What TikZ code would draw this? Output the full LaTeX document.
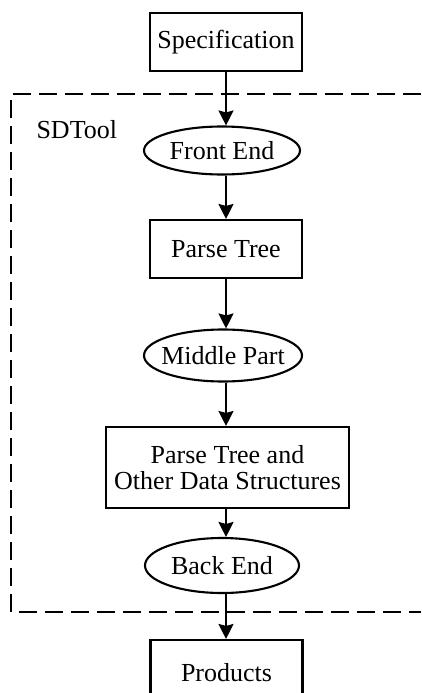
\documentclass[tikz,border=0pt]{standalone}
\usepackage{fontspec}
\setmainfont{Liberation Serif}
\usetikzlibrary{arrows.meta,shapes.geometric}
% zero-width label so the ellipse keeps the size it is given
\newcommand{\ovallabel}[1]{\makebox[0pt]{#1}}
\begin{document}
\begin{tikzpicture}[x=1pt,y=-1pt,
  lbl/.style={font=\fontsize{26}{26}\selectfont},
  box/.style={lbl,draw,line width=2.1pt,rectangle,minimum width=152pt,minimum height=58pt,inner sep=0pt,align=center},
  oval/.style={lbl,draw,line width=2.1pt,ellipse,minimum width=156pt,minimum height=48pt,inner sep=0pt},
  flow/.style={line width=1.9pt,-{Stealth[length=15pt,width=15pt,inset=2pt]}},
  group/.style={line width=2pt,dash pattern=on 18pt off 8pt}]
\useasboundingbox (0,0) rectangle (421,693);
% tool boundary, open on the right
\draw[group] (421,94) -- (11,94) -- (11,612) -- (421,612);
\node[lbl,anchor=west] (sdtool) at (33,130) {SDTool};
% pipeline
\node[box] (spec) at (226,42) {Specification};
\node[oval] (front) at (222,150.5) {\ovallabel{Front End}};
\node[box] (tree) at (226,249) {Parse Tree};
\node[oval,minimum width=158pt,minimum height=52pt] (mid) at (223,355.5) {\ovallabel{Middle Part}};
\node[box,minimum width=243pt,minimum height=81pt] (data) at (227.5,467.5) {Parse Tree and\\Other Data Structures};
\node[oval,minimum width=154pt,minimum height=55pt] (back) at (222,565.5) {\ovallabel{Back End}};
\node[box,minimum height=66pt] (prod) at (226.5,673) {Products};
% connectors
\draw[flow] (spec.south) -- (spec.south |- front.north);
\draw[flow] (front.south -| tree.north) -- (tree.north);
\draw[flow] (tree.south) -- (tree.south |- mid.north);
\draw[flow] (mid.south -| spec.south) -- (data.north -| spec.south);
\draw[flow] (data.south -| spec.south) -- (back.north -| spec.south);
\draw[flow] (back.south -| spec.south) -- (prod.north -| spec.south);
\end{tikzpicture}
\end{document}
